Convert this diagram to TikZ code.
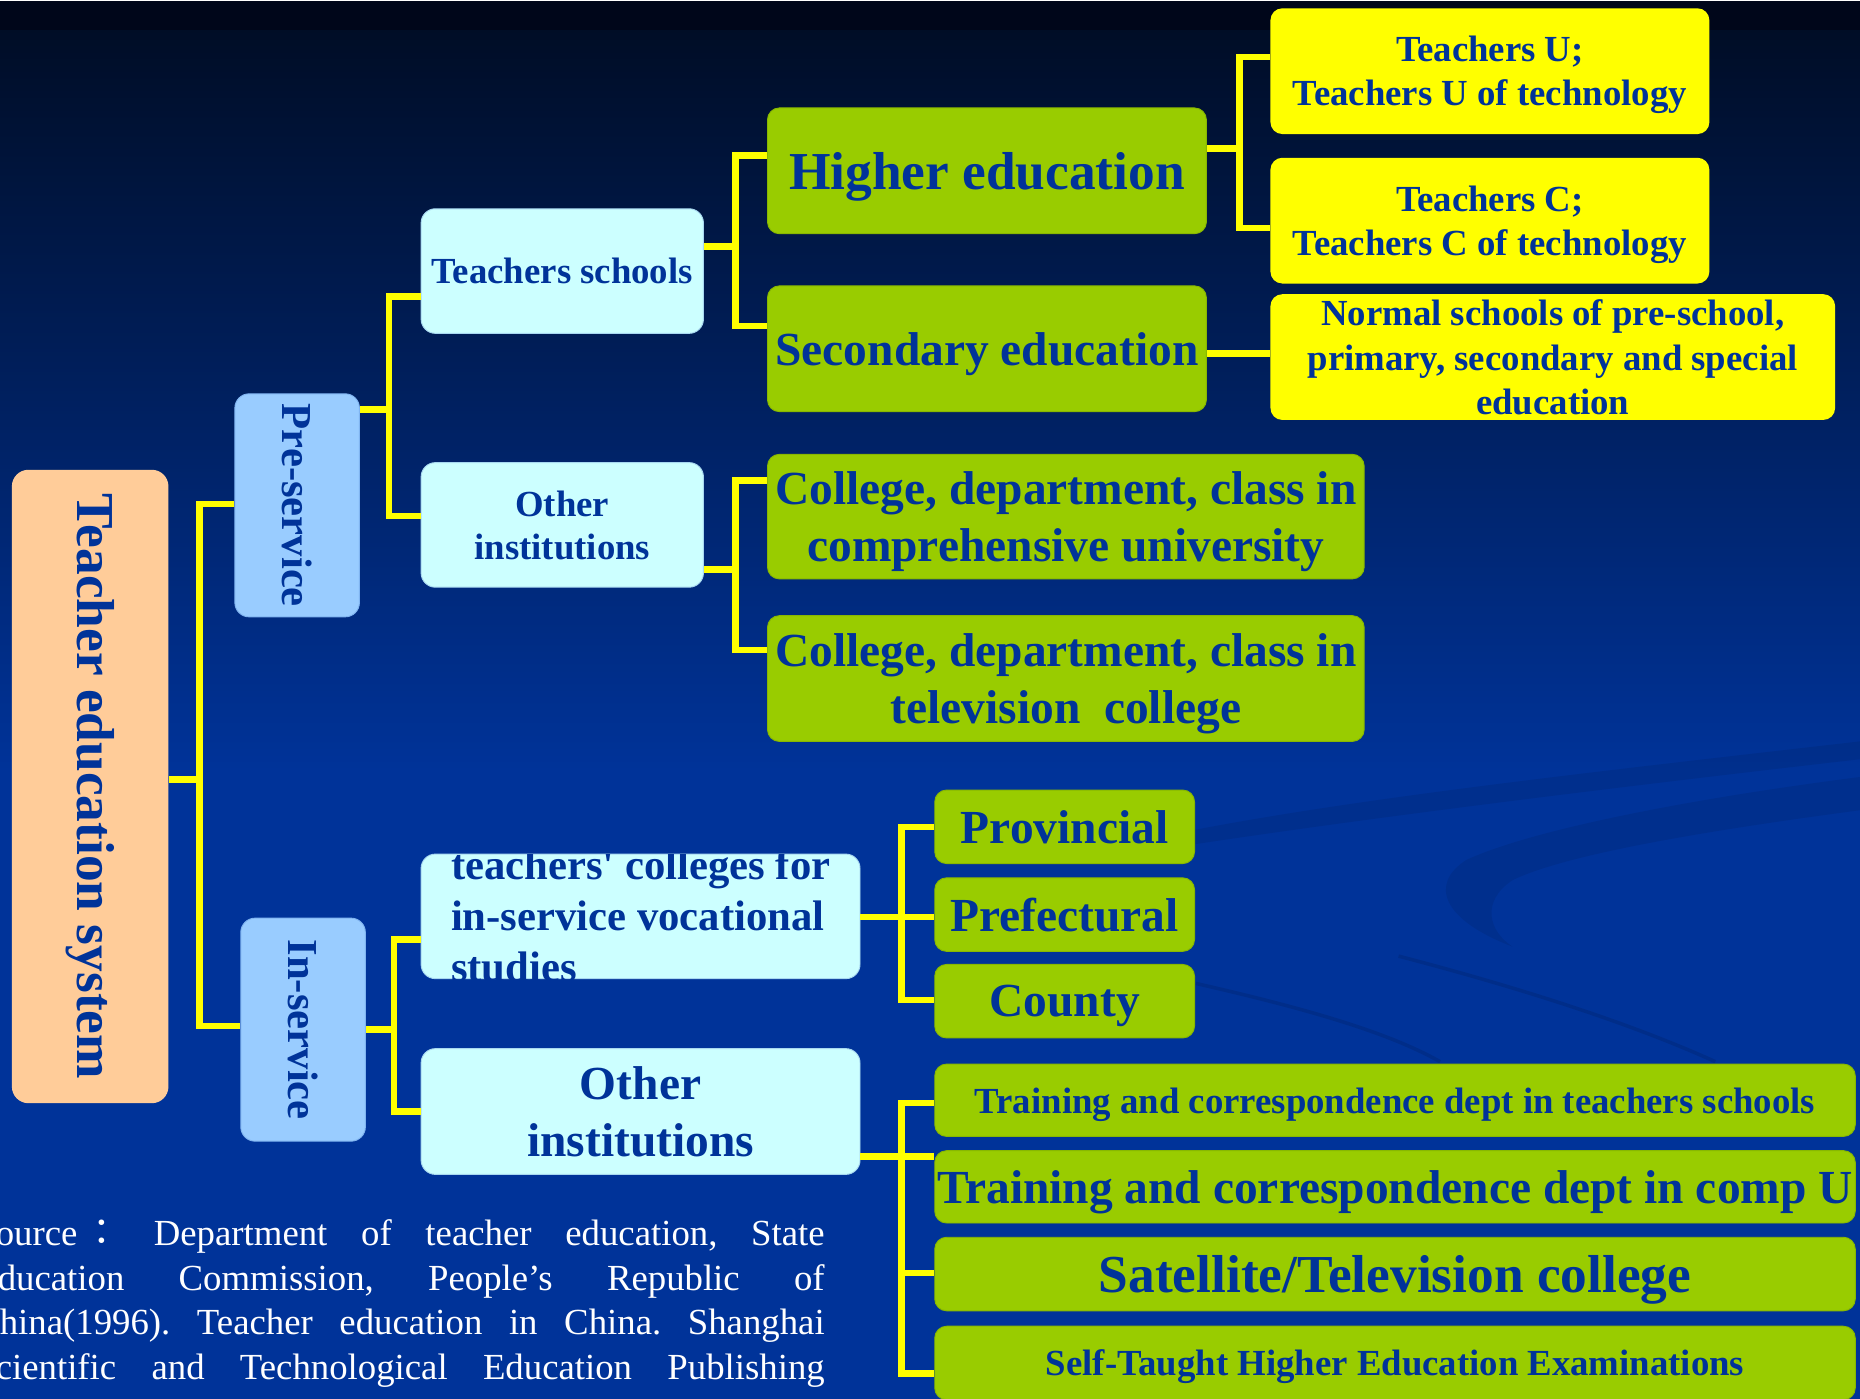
\documentclass[tikz,border=0pt]{standalone}
\usepackage{fontspec}
\setmainfont{Liberation Serif}
\newfontfamily\straightfont{Liberation Serif}[Ligatures=TeXOff]
\newfontfamily\cjkfont{Noto Sans CJK TC}
\definecolor{bgblue}{HTML}{003399}
\definecolor{bgmid}{HTML}{00246E}
\definecolor{bgtop}{HTML}{000D26}
\definecolor{bgstrip}{HTML}{00061A}
\definecolor{navytext}{HTML}{003399}
\definecolor{leaf}{HTML}{99CC00}
\definecolor{leafedge}{HTML}{88B800}
\definecolor{lemon}{HTML}{FFFF00}
\definecolor{aqua}{HTML}{CCFFFF}
\definecolor{aquaedge}{HTML}{A8D8F0}
\definecolor{sky}{HTML}{99CCFF}
\definecolor{skyedge}{HTML}{80B4F0}
\definecolor{peach}{HTML}{FFCC99}
\newcommand{\bx}[2]{\bfseries\fontsize{#1}{#2}\selectfont}
\begin{document}
\begin{tikzpicture}[x=1pt,y=-1pt,
  basebox/.style={inner sep=0pt, text=navytext, align=center},
  flatbox/.style={basebox, text depth=0pt},
  gbox/.style={flatbox, fill=leaf, draw=leafedge, line width=0.8pt, rounded corners=10pt},
  ybox/.style={flatbox, fill=lemon, rounded corners=10pt},
  abox/.style={flatbox, fill=aqua, draw=aquaedge, line width=0.8pt, rounded corners=12pt},
  sbox/.style={basebox, fill=sky, draw=skyedge, line width=0.8pt, rounded corners=12pt},
  rootbox/.style={basebox, fill=peach, rounded corners=14pt},
  conn/.style={draw=lemon, line width=5.5pt},
  swoosh/.style={fill=black, fill opacity=0.08},
  swline/.style={draw=black, draw opacity=0.10, line width=3pt}]
\useasboundingbox (0,0) rectangle (1568,1179);
\clip (0,0) rectangle (1568,1179);
% background
\fill[bgblue] (0,0) rectangle (1568,1179);
\shade[top color=bgtop, middle color=bgmid, bottom color=bgblue] (0,25) rectangle (1568,650);
\fill[bgstrip] (0,0) rectangle (1568,25);
\fill[white] (0,0) rectangle (1568,1);
% background swooshes
\fill[swoosh] (1568,655) .. controls (1420,674) and (1290,700) .. (1236,725)
  .. controls (1205,745) and (1215,775) .. (1275,798)
  .. controls (1255,785) and (1248,760) .. (1275,742)
  .. controls (1320,720) and (1440,700) .. (1568,683) -- cycle;
\fill[swoosh] (1005,700) .. controls (1150,672) and (1350,650) .. (1568,625)
  -- (1568,640) .. controls (1350,665) and (1150,690) .. (1005,712) -- cycle;
\draw[swline] (1008,829) .. controls (1100,850) and (1170,870) .. (1214,895);
\draw[swline] (1179,806) .. controls (1290,835) and (1380,865) .. (1446,895);

% nodes
\node[rootbox, minimum width=132pt, minimum height=534pt, font=\bx{45}{54}] (root) at (76,663) {\rotatebox{-90}{Teacher education system}};
\node[sbox, minimum width=105pt, minimum height=188pt, font=\bx{36}{43}] (pre) at (250.5,426) {\rotatebox{-90}{Pre-service}};
\node[sbox, minimum width=105pt, minimum height=188pt, font=\bx{36}{43}] (ins) at (255.5,868) {\rotatebox{-90}{In-service}};

\node[abox, minimum width=238pt, minimum height=105pt, font=\bx{31}{36}] (ts) at (474,228.5) {Teachers schools};
\node[abox, minimum width=238pt, minimum height=105pt, font=\bx{31}{36}] (oip) at (474,442.5) {Other\\institutions};
\node[abox, minimum width=370pt, minimum height=105pt] (tc) at (540,772.5) {};
\begin{scope}
  \clip[rounded corners=12pt] (tc.south west) rectangle (tc.north east);
  \node[inner sep=0pt, text=navytext, align=left, anchor=north west, font=\bx{36}{43}] (tctext) at (380,716) {teachers{\straightfont '} colleges for\\in-service vocational\\studies};
\end{scope}
\node[abox, minimum width=370pt, minimum height=106pt, font=\bx{40}{48}] (oii) at (540,937) {Other\\institutions};

\node[gbox, minimum width=370pt, minimum height=106pt, font=\bx{45}{54}] (he) at (832,144) {Higher education};
\node[gbox, minimum width=370pt, minimum height=106pt, font=\bx{40}{48}] (se) at (832,294) {Secondary education};
\node[gbox, minimum width=503pt, minimum height=105pt, font=\bx{40}{48}] (cc) at (898.5,435.5) {College, department, class in\\comprehensive university};
\node[gbox, minimum width=503pt, minimum height=106pt, font=\bx{40}{48}] (ct) at (898.5,572) {College, department, class in\\television\ \ college};

\node[ybox, minimum width=370pt, minimum height=106pt, font=\bx{31}{37}] (tu) at (1256,60) {Teachers U;\\Teachers U of technology};
\node[ybox, minimum width=370pt, minimum height=106pt, font=\bx{31}{37}] (tcc) at (1256,186) {Teachers C;\\Teachers C of technology};
\node[ybox, minimum width=476pt, minimum height=106pt, font=\bx{31}{37.5}] (ns) at (1309,301) {Normal schools of pre-school,\\primary, secondary and special\\education};

\node[gbox, minimum width=219pt, minimum height=62pt, font=\bx{40}{48}] (pr) at (897.5,697) {Provincial};
\node[gbox, minimum width=219pt, minimum height=62pt, font=\bx{40}{48}] (pf) at (897.5,771) {Prefectural};
\node[gbox, minimum width=219pt, minimum height=62pt, font=\bx{40}{48}] (co) at (897.5,844) {County};

\node[gbox, minimum width=776pt, minimum height=61pt, font=\bx{31}{37}] (t1) at (1176,927.5) {Training and correspondence dept in teachers schools};
\node[gbox, minimum width=776pt, minimum height=61pt, font=\bx{40}{48}] (t2) at (1176,1000.5) {Training and correspondence dept in comp U};
\node[gbox, minimum width=776pt, minimum height=62pt, font=\bx{45}{54}] (sa) at (1176,1074) {Satellite/Television college};
\node[gbox, minimum width=776pt, minimum height=62pt, font=\bx{31}{37}] (st) at (1176,1149) {Self-Taught Higher Education Examinations};

% source text
\node[inner sep=0pt, text=white, align=left, anchor=north west, font=\frenchspacing\fontsize{31}{37.5}\selectfont] (src) at (-21,1028) {%
\makebox[716pt][s]{Source\hspace{5pt}{\cjkfont ：} Department of teacher education, State}\\
\makebox[716pt][s]{Education Commission, People’s Republic of}\\
\makebox[716pt][s]{China(1996). Teacher education in China. Shanghai}\\
\makebox[716pt][s]{Scientific and Technological Education Publishing}};

% connectors
\draw[conn] (root.east |- 0,657) -- (168,657);
\draw[conn] (pre.west |- 0,425) -| (168,865) -- (ins.west |- 0,865);
\draw[conn] (pre.east |- 0,345) -- (328,345);
\draw[conn] (ts.west |- 0,250) -| (328,435) -- (oip.west |- 0,435);
\draw[conn] (ins.east |- 0,868) -- (332,868);
\draw[conn] (tc.west |- 0,792) -| (332,937) -- (oii.west |- 0,937);
\draw[conn] (ts.east |- 0,208) -- (620,208);
\draw[conn] (he.west |- 0,131) -| (620,275) -- (se.west |- 0,275);
\draw[conn] (oip.east |- 0,480) -- (620,480);
\draw[conn] (cc.west |- 0,405) -| (620,548) -- (ct.west |- 0,548);
\draw[conn] (he.east |- 0,125) -- (1045,125);
\draw[conn] (tu.west |- 0,48) -| (1045,192) -- (tcc.west |- 0,192);
\draw[conn] (se.east |- 0,298) -- (ns.west |- 0,298);
\draw[conn] (tc.east |- 0,773) -- (pf.west |- 0,773);
\draw[conn] (pr.west |- 0,697) -| (760,843) -- (co.west |- 0,843);
\draw[conn] (oii.east |- 0,975) -- (t2.west |- 0,975);
\draw[conn] (t1.west |- 0,930) -| (760,1158) -- (st.west |- 0,1158);
\draw[conn] (760,1073) -- (sa.west |- 0,1073);
\end{tikzpicture}
\end{document}
